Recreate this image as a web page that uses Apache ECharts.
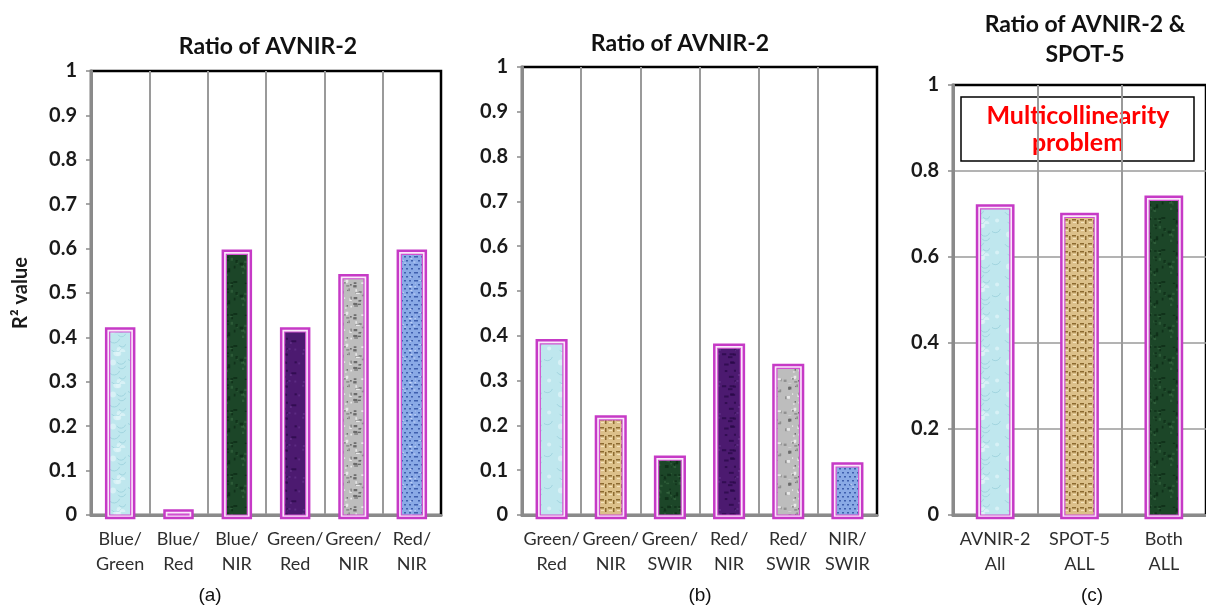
<!DOCTYPE html>
<html>
<head>
<meta charset="utf-8">
<script src="https://cdn.jsdelivr.net/npm/echarts@6/dist/echarts.min.js"></script>
<style>
html,body{margin:0;padding:0;background:#fff;}
#chart{width:1206px;height:607px;}
</style>
</head>
<body>
<div id="chart"></div>
<script>
// ---------- DATA ----------
const catsA = ['Blue/\nGreen', 'Blue/\nRed', 'Blue/\nNIR', 'Green/\nRed', 'Green/\nNIR', 'Red/\nNIR'];
const valsA = [0.42, 0.01, 0.595, 0.42, 0.54, 0.595];
const catsB = ['Green/\nRed', 'Green/\nNIR', 'Green/\nSWIR', 'Red/\nNIR', 'Red/\nSWIR', 'NIR/\nSWIR'];
const valsB = [0.39, 0.22, 0.13, 0.38, 0.335, 0.115];
const catsC = ['AVNIR-2\nAll', 'SPOT-5\nALL', 'Both\nALL'];
const valsC = [0.72, 0.70, 0.74];
const titleA = 'Ratio of AVNIR-2';
const titleB = 'Ratio of AVNIR-2';
const titleC = 'Ratio of AVNIR-2 &\nSPOT-5';
const yNameA = 'R\u00B2 value';
const noteC = 'Multicollinearity\nproblem';

// ---------- STYLE (textures per bar) ----------
const texA = ['water', 'water', 'green', 'purple', 'granite', 'blueweave'];
const texB = ['water', 'burlap', 'green', 'purple', 'granite', 'blueweave'];
const texC = ['water', 'burlap', 'green'];

function hsh(i) { const x = Math.sin(i * 127.1 + 311.7) * 43758.5453; return x - Math.floor(x); }

function makePattern(kind) {
  const c = document.createElement('canvas');
  const S = 32; c.width = S; c.height = S;
  const g = c.getContext('2d');
  if (kind === 'water') {
    g.fillStyle = '#bfe7ee'; g.fillRect(0, 0, S, S);
    for (let i = 0; i < 6; i++) {
      g.strokeStyle = 'rgba(150,205,216,0.7)'; g.lineWidth = 1;
      g.beginPath(); g.arc(hsh(i) * S, hsh(i + 20) * S, 3 + hsh(i + 40) * 4, 0.3, 2.6); g.stroke();
      g.fillStyle = 'rgba(225,245,249,0.7)';
      g.beginPath(); g.arc(hsh(i + 60) * S, hsh(i + 80) * S, 1.5 + hsh(i + 90) * 2, 0, 6.3); g.fill();
    }
  } else if (kind === 'green') {
    g.fillStyle = '#1c4628'; g.fillRect(0, 0, S, S);
    for (let i = 0; i < 40; i++) {
      const t = hsh(i + 500);
      g.fillStyle = t < 0.5 ? 'rgba(60,110,70,0.55)' : 'rgba(8,35,16,0.6)';
      g.fillRect(hsh(i) * S, hsh(i + 111) * S, 1 + hsh(i + 222) * 3, 1 + hsh(i + 333) * 2);
    }
  } else if (kind === 'purple') {
    g.fillStyle = '#4c1a70'; g.fillRect(0, 0, S, S);
    g.fillStyle = 'rgba(40,8,70,0.7)';
    for (let i = 0; i < 14; i++) g.fillRect(hsh(i) * S, hsh(i + 30) * S, 2 + hsh(i + 5) * 3, 2);
    g.fillStyle = 'rgba(110,60,150,0.5)';
    for (let i = 0; i < 8; i++) g.fillRect(hsh(i + 50) * S, hsh(i + 77) * S, 2, 2);
  } else if (kind === 'granite') {
    g.fillStyle = '#bdbdbd'; g.fillRect(0, 0, S, S);
    for (let i = 0; i < 40; i++) {
      const t = hsh(i + 200);
      g.fillStyle = t < 0.4 ? '#6a6a6a' : (t < 0.7 ? '#8f8f8f' : '#e8e8e8');
      g.fillRect(hsh(i) * S, hsh(i + 100) * S, 1 + hsh(i + 300) * 3, 1 + hsh(i + 400) * 2);
    }
  } else if (kind === 'blueweave') {
    g.fillStyle = '#8aaae6'; g.fillRect(0, 0, S, S);
    g.fillStyle = '#3f5fae';
    for (let y = 0; y < S; y += 4) for (let x = (y / 4) % 2 * 2; x < S; x += 5) g.fillRect(x, y, 2, 1.5);
    g.fillStyle = 'rgba(220,230,255,0.7)';
    for (let i = 0; i < 10; i++) g.fillRect(hsh(i) * S, hsh(i + 9) * S, 2, 1);
  } else if (kind === 'burlap') {
    g.fillStyle = '#dcc08a'; g.fillRect(0, 0, S, S);
    g.fillStyle = '#8c6a30';
    for (let y = 0; y < S; y += 8) {
      for (let x = 0; x < S; x += 8) {
        g.fillRect(x, y + 3, 4, 1.5);
        g.fillRect(x + 5, y + 4, 1.5, 4);
      }
    }
    g.fillStyle = 'rgba(250,235,200,0.8)';
    for (let y = 0; y < S; y += 8) for (let x = 0; x < S; x += 8) g.fillRect(x + 1, y + 6, 3, 1);
  }
  return { image: c, repeat: 'repeat' };
}
const patterns = {};
['water', 'green', 'purple', 'granite', 'blueweave', 'burlap'].forEach(k => patterns[k] = makePattern(k));

// ---------- LAYOUT ----------
const G = [
  { left: 91, top: 71, width: 350, height: 444, ratio: 0.48 },
  { left: 522, top: 67, width: 355, height: 448, ratio: 0.50 },
  { left: 953, top: 85, width: 264, height: 430, ratio: 0.43 }
];
const FONT = 'Lato';

function renderer(tex, ratio) {
  return function (params, api) {
    const idx = api.value(0);
    const v = api.value(1);
    const top = api.coord([idx, v]);
    const base = api.coord([idx, 0]);
    const bw = api.size([1, 0])[0] * ratio;
    const x0 = top[0] - bw / 2;
    const h = base[1] - top[1];
    const pad = 3.5;
    return {
      type: 'group',
      children: [
        { type: 'rect', shape: { x: x0, y: top[1], width: bw, height: h + 3 },
          style: { fill: '#fbe9fb', stroke: '#c63ac6', lineWidth: 2.5 } },
        { type: 'rect', shape: { x: x0 + pad, y: top[1] + pad, width: bw - 2 * pad, height: Math.max(h - pad, 0.5) },
          style: { fill: patterns[tex[idx]], stroke: '#d050d0', lineWidth: 1.2 } }
      ]
    };
  };
}

function toData(vals) { return vals.map((v, i) => [i, v]); }

const xAxisBase = (cats, gi) => ({
  type: 'category', gridIndex: gi, data: cats,
  axisLine: { show: true, lineStyle: { color: '#8a8a8a', width: 3 } },
  axisTick: { show: false },
  axisLabel: { interval: 0, color: '#2e2e2e', fontFamily: FONT, fontSize: 18, lineHeight: 25, margin: 12 },
  splitLine: { show: true, showMinLine: false, showMaxLine: false, lineStyle: { color: '#9a9a9a', width: 2 } }
});
const yAxisBase = (gi, interval, split) => ({
  type: 'value', gridIndex: gi, min: 0, max: 1, interval: interval,
  axisLine: { show: true, lineStyle: { color: '#8a8a8a', width: 3 } },
  axisTick: { show: true, length: 5, lineStyle: { color: '#8a8a8a', width: 1.5 } },
  axisLabel: { color: '#1a1a1a', fontFamily: FONT, fontWeight: 'bold', fontSize: 20, margin: 14 },
  splitLine: { show: split, showMinLine: false, showMaxLine: false, lineStyle: { color: '#9a9a9a', width: 1.5 } }
});

const yA = yAxisBase(0, 0.1, false);
yA.name = yNameA;
yA.nameLocation = 'middle';
yA.nameGap = 60;
yA.nameRotate = 90;
yA.nameTextStyle = { color: '#1a1a1a', fontFamily: FONT, fontWeight: 'bold', fontSize: 20 };

const option = {
  backgroundColor: '#ffffff',
  animation: false,
  grid: G.map(g => ({
    left: g.left, top: g.top, width: g.width, height: g.height,
    show: true, borderColor: '#000', borderWidth: 2.5, backgroundColor: 'transparent'
  })),
  xAxis: [xAxisBase(catsA, 0), xAxisBase(catsB, 1), xAxisBase(catsC, 2)],
  yAxis: [yA, yAxisBase(1, 0.1, false), yAxisBase(2, 0.2, true)],
  series: [
    { type: 'custom', xAxisIndex: 0, yAxisIndex: 0, data: toData(valsA), encode: { x: 0, y: 1 }, renderItem: renderer(texA, G[0].ratio), z: 5 },
    { type: 'custom', xAxisIndex: 1, yAxisIndex: 1, data: toData(valsB), encode: { x: 0, y: 1 }, renderItem: renderer(texB, G[1].ratio), z: 5 },
    { type: 'custom', xAxisIndex: 2, yAxisIndex: 2, data: toData(valsC), encode: { x: 0, y: 1 }, renderItem: renderer(texC, G[2].ratio), z: 5 }
  ],
  graphic: [
    { type: 'text', x: 268, y: 47, style: { text: titleA, fill: '#111', font: 'bold 23px ' + FONT, align: 'center', verticalAlign: 'middle' } },
    { type: 'text', x: 680, y: 44, style: { text: titleB, fill: '#111', font: 'bold 23px ' + FONT, align: 'center', verticalAlign: 'middle' } },
    { type: 'text', x: 1085, y: 40, style: { text: titleC, fill: '#111', font: 'bold 23px ' + FONT, align: 'center', verticalAlign: 'middle', lineHeight: 30 } },
    { type: 'group', z: 50, children: [
      { type: 'rect', shape: { x: 961, y: 97, width: 233, height: 64 }, style: { fill: '#fff', stroke: '#000', lineWidth: 1.5 } },
      { type: 'text', x: 1078, y: 129, style: { text: noteC, fill: '#ff0000', font: 'bold 25px ' + FONT, align: 'center', verticalAlign: 'middle', lineHeight: 27 } }
    ] },
    { type: 'text', x: 210, y: 596, style: { text: '(a)', fill: '#111', font: '19px "Liberation Sans"', align: 'center', verticalAlign: 'middle' } },
    { type: 'text', x: 700, y: 596, style: { text: '(b)', fill: '#111', font: '19px "Liberation Sans"', align: 'center', verticalAlign: 'middle' } },
    { type: 'text', x: 1092, y: 596, style: { text: '(c)', fill: '#111', font: '19px "Liberation Sans"', align: 'center', verticalAlign: 'middle' } }
  ]
};

const chart = echarts.init(document.getElementById('chart'), null, { renderer: 'canvas' });
chart.setOption(option);
</script>
</body>
</html>
